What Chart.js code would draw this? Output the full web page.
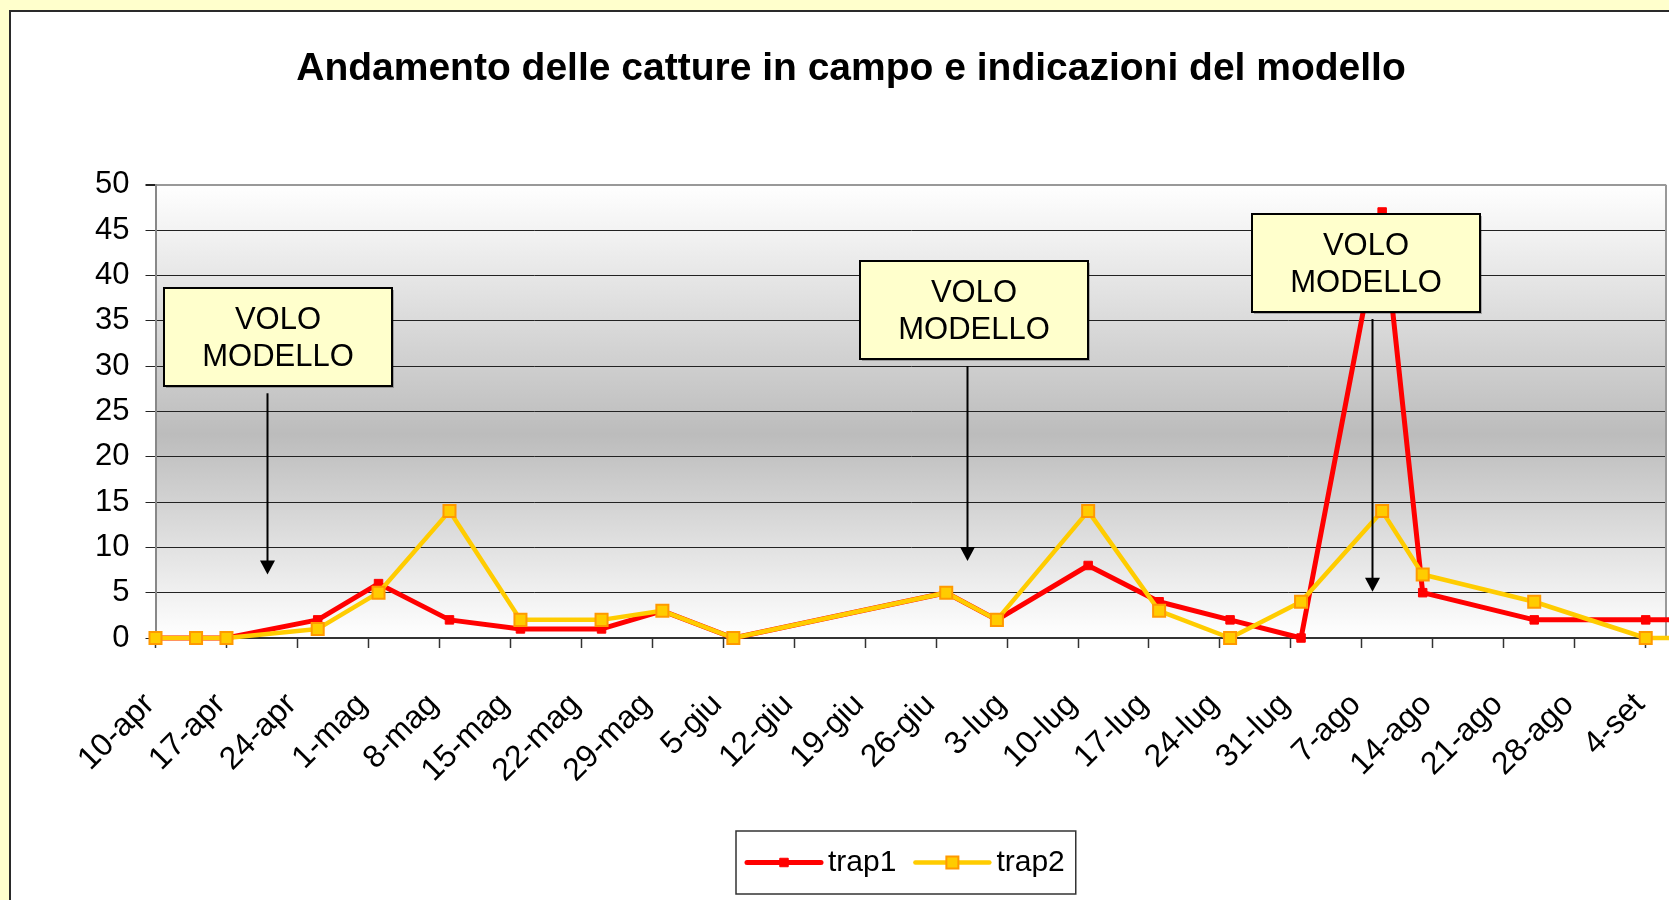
<!DOCTYPE html>
<html>
<head>
<meta charset="utf-8">
<script src="https://cdn.jsdelivr.net/npm/chart.js@4.4.0/dist/chart.umd.min.js"></script>
<style>
html, body { margin: 0; padding: 0; width: 1669px; height: 900px; overflow: hidden; background: #FFFFCC; }
#frame { position: absolute; left: 9px; top: 10px; width: 1680px; height: 900px; border: 2px solid #2a2a2a; background: #fff; }
#frame canvas { display: block; }
</style>
</head>
<body>
<div id="frame"><canvas id="chart" width="1680" height="888"></canvas></div>
<script>
// sampling dates (the last one lies past the visible end of the axis, lines run off the right edge)
const dates = ['2006-04-10', '2006-04-14', '2006-04-17', '2006-04-26', '2006-05-02', '2006-05-09',
    '2006-05-16', '2006-05-24', '2006-05-30', '2006-06-06', '2006-06-27', '2006-07-02', '2006-07-11',
    '2006-07-18', '2006-07-25', '2006-08-01', '2006-08-09', '2006-08-13', '2006-08-24', '2006-09-04',
    '2006-09-11']
const trap1 = [0, 0, 0, 2, 6, 2, 1, 1, 3, 0, 5, 2, 8, 4, 2, 0, 47, 5, 2, 2, 2]
const trap2 = [0, 0, 0, 1, 5, 14, 2, 2, 3, 0, 5, 2, 14, 3, 0, 4, 14, 7, 4, 0, 0]

const tickLabels = ['10-apr', '17-apr', '24-apr', '1-mag', '8-mag', '15-mag', '22-mag', '29-mag',
    '5-giu', '12-giu', '19-giu', '26-giu', '3-lug', '10-lug', '17-lug', '24-lug', '31-lug',
    '7-ago', '14-ago', '21-ago', '28-ago', '4-set']
const axisStart = '2006-04-10'
const axisEnd = '2006-09-06'

// "VOLO MODELLO" indications: date, arrow start and arrow tip (catture)
const voloDates = ['2006-04-21', '2006-06-29', '2006-08-08']
const voloFrom = [27, 30, 35.2]
const voloTo = [7, 8.5, 5.1]
const voloText = ['VOLO', 'MODELLO']

const FONT = '"Liberation Sans", Arial, sans-serif'
const dayOf = s => (Date.parse(s) - Date.parse(axisStart)) / 86400000

const boxShift = [10, 6, -7]

const bgPlugin = {
    id: 'plotBg',
    beforeDraw(chart) {
        const { ctx, chartArea: a } = chart
        const g = ctx.createLinearGradient(0, a.top, 0, a.bottom)
        g.addColorStop(0, '#ffffff')
        g.addColorStop(0.55, '#bcbcbc')
        g.addColorStop(1, '#ffffff')
        ctx.save()
        ctx.fillStyle = g
        ctx.fillRect(a.left, a.top, a.right - a.left, a.bottom - a.top)
        ctx.restore()
    },
    beforeDatasetsDraw(chart) {
        const { ctx, chartArea: a } = chart
        ctx.save()
        ctx.strokeStyle = '#999'
        ctx.lineWidth = 2
        ctx.beginPath()
        ctx.moveTo(a.right, a.top)
        ctx.lineTo(a.right, a.bottom)
        ctx.stroke()
        ctx.restore()
    }
}

const voloPlugin = {
    id: 'volo',
    afterDatasetsDraw(chart) {
        const c = chart.ctx
        const xs = chart.scales.x
        const ys = chart.scales.y
        c.save()
        voloDates.forEach((d, i) => {
            const x = Math.round(xs.getPixelForValue(dayOf(d))) + 0.5
            const y0 = ys.getPixelForValue(voloFrom[i])
            const y1 = ys.getPixelForValue(voloTo[i])

            c.strokeStyle = '#000'
            c.lineWidth = 2
            c.beginPath()
            c.moveTo(x, y0)
            c.lineTo(x, y1 - 12)
            c.stroke()
            c.fillStyle = '#000'
            c.beginPath()
            c.moveTo(x - 7.5, y1 - 14)
            c.lineTo(x + 7.5, y1 - 14)
            c.lineTo(x, y1)
            c.closePath()
            c.fill()

            const bw = 228, bh = 98
            const bx = Math.round(x + boxShift[i] - bw / 2)
            const by = Math.round(y0 - 7 - bh)
            c.fillStyle = 'rgba(0,0,0,0.25)'
            c.fillRect(bx + 2, by + 2, bw, bh)
            c.fillStyle = '#FFFFCC'
            c.fillRect(bx, by, bw, bh)
            c.strokeStyle = '#000'
            c.lineWidth = 2
            c.strokeRect(bx, by, bw, bh)

            c.fillStyle = '#000'
            c.font = '31px ' + FONT
            c.textAlign = 'center'
            c.textBaseline = 'middle'
            c.fillText(voloText[0], bx + bw / 2, by + 32)
            c.fillText(voloText[1], bx + bw / 2, by + 69)
        })
        c.restore()
    }
}

const legendPlugin = {
    id: 'trapLegend',
    afterDraw(chart) {
        const c = chart.ctx
        c.save()
        c.font = '30px ' + FONT
        const sets = chart.data.datasets
        const lineLen = 74, gapText = 7, gapItem = 19, pad = 11
        const widths = sets.map(ds => c.measureText(ds.label).width)
        const total = pad * 2 + widths.reduce((s, w) => s + lineLen + gapText + w, 0) + gapItem * (sets.length - 1)
        const cx = (chart.chartArea.left + chart.chartArea.right) / 2 - 5
        let x = Math.round(cx - total / 2)
        const top = chart.height - 69, h = 63, my = top + h / 2
        c.fillStyle = '#fff'
        c.fillRect(x, top, total, h)
        c.strokeStyle = '#333'
        c.lineWidth = 1.5
        c.strokeRect(x, top, total, h)
        x += pad
        sets.forEach((ds, i) => {
            c.strokeStyle = ds.borderColor
            c.lineWidth = ds.borderWidth
            c.lineCap = 'round'
            c.beginPath()
            c.moveTo(x, my)
            c.lineTo(x + lineLen, my)
            c.stroke()
            c.lineCap = 'butt'
            c.fillStyle = ds.pointBackgroundColor
            c.strokeStyle = ds.pointBorderColor
            c.lineWidth = ds.pointBorderWidth
            Chart.helpers.drawPoint(c, { pointStyle: 'rect', radius: ds.pointRadius, borderWidth: ds.pointBorderWidth, rotation: 0 }, x + lineLen / 2, my)
            c.fillStyle = '#000'
            c.textAlign = 'left'
            c.textBaseline = 'middle'
            c.fillText(ds.label, x + lineLen + gapText, my)
            x += lineLen + gapText + widths[i] + gapItem
        })
        c.restore()
    }
}

const ctx = document.getElementById('chart').getContext('2d')

const chart = new Chart(ctx, {
    type: 'line',
    data: {
        datasets: [{
            label: 'trap1',
            data: dates.map((d, i) => ({ x: dayOf(d), y: trap1[i] })),
            borderColor: '#FF0000',
            backgroundColor: '#FF0000',
            borderWidth: 5,
            borderJoinStyle: 'round',
            pointStyle: 'rect',
            pointRadius: 6,
            pointBorderWidth: 1,
            pointBackgroundColor: '#FF0000',
            pointBorderColor: '#FF0000',
            tension: 0,
            clip: false,
            order: 1
        }, {
            label: 'trap2',
            data: dates.map((d, i) => ({ x: dayOf(d), y: trap2[i] })),
            borderColor: '#FFCC00',
            backgroundColor: '#FFCC00',
            borderWidth: 4.5,
            borderJoinStyle: 'round',
            pointStyle: 'rect',
            pointRadius: 8.5,
            pointBorderWidth: 2,
            pointBackgroundColor: '#FFCC00',
            pointBorderColor: '#FF9900',
            tension: 0,
            clip: false,
            order: 0
        }]
    },
    options: {
        responsive: false,
        animation: false,
        layout: { padding: { left: 25, right: 25, top: 0, bottom: 92 } },
        plugins: {
            legend: { display: false },
            tooltip: { enabled: false },
            title: {
                display: true,
                text: 'Andamento delle catture in campo e indicazioni del modello',
                color: '#000',
                font: { family: FONT, size: 39, weight: 'bold' },
                padding: { top: 34, bottom: 92 }
            }
        },
        scales: {
            x: {
                type: 'linear',
                min: 0,
                max: dayOf(axisEnd),
                afterBuildTicks: s => { s.ticks = tickLabels.map((t, i) => ({ value: i * 7 })) },
                afterFit: s => { s.height = 170; s.paddingLeft = 0; s.paddingRight = 0 },
                ticks: {
                    callback: (v, i) => tickLabels[i],
                    autoSkip: false,
                    minRotation: 45,
                    maxRotation: 45,
                    color: '#000',
                    font: { family: FONT, size: 32 },
                    padding: 38,
                    labelOffset: -6
                },
                grid: { drawOnChartArea: false, tickLength: 10, tickColor: '#333', tickWidth: 1.5 },
                border: { color: '#333', width: 2 }
            },
            y: {
                min: 0,
                max: 50,
                afterFit: s => { s.width = 119.5; s.paddingTop = 0; s.paddingBottom = 0 },
                ticks: { stepSize: 5, color: '#000', font: { family: FONT, size: 31 }, padding: 16 },
                grid: {
                    color: c => c.tick && c.tick.value === 50 ? '#999' : '#222',
                    lineWidth: c => c.tick && c.tick.value === 50 ? 2 : 1,
                    tickLength: 10,
                    tickColor: '#222'
                },
                border: { color: '#888', width: 2 }
            }
        }
    },
    plugins: [bgPlugin, voloPlugin, legendPlugin]
})
</script>
</body>
</html>
